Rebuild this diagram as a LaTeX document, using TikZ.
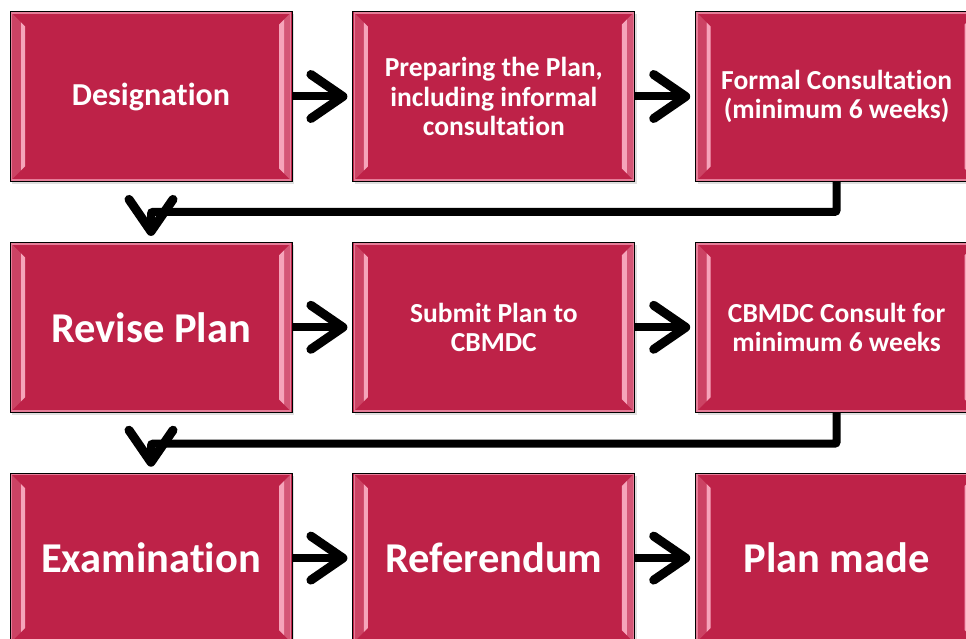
\documentclass[tikz,border=0pt]{standalone}
\usepackage{fontspec}
\setmainfont{Carlito}[Ligatures=NoCommon]
\usetikzlibrary{positioning,arrows.meta,shadows}
\definecolor{np_red}{RGB}{190,34,72}
\definecolor{np_pink}{RGB}{246,164,186}

\begin{document}
\begin{tikzpicture}[x=1pt,y=1pt,
    stage/.style={draw=black, line width=0.8pt, fill=np_red,
      minimum width=282pt, minimum height=170pt, inner sep=0pt,
      text=white, align=center,
      font=\bfseries\fontsize{27.5}{29.5}\selectfont,
      drop shadow={shadow xshift=2pt, shadow yshift=-3pt, opacity=0.25},
      path picture={
        \coordinate (nw) at (path picture bounding box.north west);
        \coordinate (sw) at (path picture bounding box.south west);
        \coordinate (ne) at (path picture bounding box.north east);
        \coordinate (se) at (path picture bounding box.south east);
        % bevel, left
        \fill[np_red!75!np_pink] ([shift={(2,-2)}]nw) -- ([shift={(11,-11)}]nw)
          -- ([shift={(11,11)}]sw) -- ([shift={(2,2)}]sw) -- cycle;
        \fill[np_pink] ([shift={(11,-11)}]nw) -- ([shift={(15,-15)}]nw)
          -- ([shift={(15,15)}]sw) -- ([shift={(11,11)}]sw) -- cycle;
        % bevel, right
        \fill[np_red!60!np_pink] ([shift={(-2,-2)}]ne) -- ([shift={(-8,-8)}]ne)
          -- ([shift={(-8,8)}]se) -- ([shift={(-2,2)}]se) -- cycle;
        \fill[np_pink] ([shift={(-8,-8)}]ne) -- ([shift={(-13,-13)}]ne)
          -- ([shift={(-13,13)}]se) -- ([shift={(-8,8)}]se) -- cycle;
        % thin rim
        \draw[np_pink!70!np_red, line width=1.5pt]
          ([shift={(1.5,-1.5)}]nw) rectangle ([shift={(-1.5,1.5)}]se);
      }},
    mid stage/.style={stage, font=\bfseries\fontsize{32}{36}\selectfont},
    big stage/.style={stage, font=\bfseries\fontsize{42.5}{46}\selectfont},
    flow/.style={line width=8pt, rounded corners=2pt,
      -{Straight Barb[length=32pt, width=44pt, line width=9pt, round]}},
    node distance=60pt
  ]
  \useasboundingbox (0,0) rectangle (966,-639);

  \node[mid stage] (designation) at (151,-96.5) {Designation};
  \node[stage, right=of designation] (preparing) {Preparing the Plan,\\including informal\\consultation};
  \node[stage, right=of preparing] (formal) {Formal Consultation\\(minimum 6 weeks)};

  \node[big stage, below=of designation] (revise) {Revise Plan};
  \node[stage, right=of revise] (submit) {Submit Plan to\\CBMDC};
  \node[stage, right=of submit] (consult) {CBMDC Consult for\\minimum 6 weeks};

  \node[big stage, below=of revise] (exam) {Examination};
  \node[big stage, right=of exam] (referendum) {Referendum};
  \node[big stage, right=of referendum] (made) {Plan made};

  \draw[flow] (designation) -- ([xshift=-5pt]preparing.west);
  \draw[flow] (preparing) -- ([xshift=-5pt]formal.west);
  \draw[flow] (formal.south) -- ++(0,-30) -| ([yshift=6pt]revise.north);
  \draw[flow] (revise) -- ([xshift=-5pt]submit.west);
  \draw[flow] (submit) -- ([xshift=-5pt]consult.west);
  \draw[flow] (consult.south) -- ++(0,-31) -| ([yshift=6pt]exam.north);
  \draw[flow] (exam) -- ([xshift=-5pt]referendum.west);
  \draw[flow] (referendum) -- ([xshift=-5pt]made.west);
\end{tikzpicture}
\end{document}
